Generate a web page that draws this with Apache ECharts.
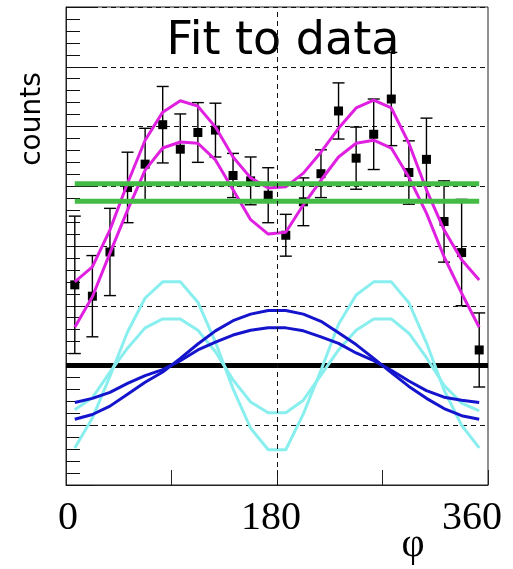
<!DOCTYPE html>
<html><head><meta charset="utf-8">
<script src="https://cdn.jsdelivr.net/npm/echarts@6/dist/echarts.min.js"></script>
<style>html,body{margin:0;padding:0;background:#fff}#c{width:513px;height:569px}</style>
</head><body><div id="c"></div>
<script>
// bin centres (degrees)
const phi = [7.5, 22.5, 37.5, 52.5, 67.5, 82.5, 97.5, 112.5, 127.5, 142.5, 157.5, 172.5,
             187.5, 202.5, 217.5, 232.5, 247.5, 262.5, 277.5, 292.5, 307.5, 322.5, 337.5, 352.5];
// measured counts and errors
const counts = [3.35, 3.16, 3.90, 4.98, 5.37, 6.03, 5.62, 5.90, 5.94, 5.18, 5.09, 4.85,
                4.18, 4.74, 5.21, 6.26, 5.47, 5.87, 6.46, 5.23, 5.45, 4.41, 3.89, 2.26];
const errors = [1.15, 0.68, 0.73, 0.59, 0.60, 0.64, 0.59, 0.50, 0.45, 0.37, 0.40, 0.46,
                0.35, 0.40, 0.40, 0.47, 0.52, 0.59, 0.78, 0.53, 0.69, 0.68, 0.89, 0.62];
// fits (magenta)
const fitHigh = [3.40, 3.65, 4.27, 5.05, 5.77, 6.24, 6.43, 6.34, 5.99, 5.49, 5.14, 4.97,
                 4.99, 5.22, 5.57, 5.97, 6.31, 6.44, 6.31, 5.72, 4.94, 4.27, 3.77, 3.43];
const fitLow  = [2.64, 3.15, 3.88, 4.60, 5.27, 5.64, 5.74, 5.72, 5.44, 4.94, 4.44, 4.20,
                 4.23, 4.69, 5.10, 5.49, 5.72, 5.77, 5.64, 5.15, 4.55, 3.82, 3.21, 2.64];
// constant terms (green)
const constHigh = 5.04;
const constLow = 4.75;
// cos(phi) terms (blue)
const cos1Big   = [1.10, 1.18, 1.32, 1.52, 1.72, 1.89, 2.12, 2.36, 2.58, 2.75, 2.86, 2.92,
                   2.92, 2.86, 2.74, 2.55, 2.35, 2.12, 1.88, 1.65, 1.45, 1.28, 1.16, 1.10];
const cos1Small = [1.38, 1.45, 1.55, 1.70, 1.83, 1.93, 2.08, 2.26, 2.39, 2.51, 2.59, 2.63,
                   2.63, 2.58, 2.48, 2.37, 2.21, 2.08, 1.92, 1.74, 1.58, 1.47, 1.42, 1.38];
// cos(2phi) terms (cyan)
const cos2Big   = [0.62, 1.12, 1.82, 2.56, 3.13, 3.40, 3.40, 3.06, 2.39, 1.61, 0.95, 0.59,
                   0.59, 1.19, 1.92, 2.69, 3.18, 3.40, 3.40, 3.05, 2.38, 1.59, 1.00, 0.62];
const cos2Small = [1.26, 1.46, 1.89, 2.29, 2.63, 2.78, 2.78, 2.59, 2.23, 1.76, 1.39, 1.21,
                   1.21, 1.42, 1.84, 2.26, 2.59, 2.78, 2.78, 2.54, 2.13, 1.67, 1.37, 1.24];
const baselineValue = 2;
const xTickLabels = ['0', '180', '360'];

const pairs = arr => phi.map((p, i) => [p, arr[i]]);
const flat = v => phi.map(p => [p, v]);

function lineSeries(data, color, width) {
  return { type: 'line', data: data, symbol: 'none', showSymbol: false, smooth: false,
           lineStyle: { color: color, width: width }, silent: true };
}

const chart = echarts.init(document.getElementById('c'), null, { renderer: 'canvas' });
const serif = 'Liberation Serif';
chart.setOption({
  animation: false,
  backgroundColor: '#fff',
  grid: { left: 66, right: 25, top: 7, bottom: 84, show: true, borderColor: '#222', borderWidth: 1 },
  xAxis: {
    type: 'value', min: 0, max: 360, interval: 90,
    axisLine: { show: true, lineStyle: { color: '#222', width: 1 } },
    axisTick: { show: true, inside: true, length: 15, lineStyle: { color: '#222' } },
    splitLine: { show: false },
    axisLabel: {
      margin: 13,
      formatter: v => v === 0 ? '{a|' + xTickLabels[0] + '}' : v === 180 ? '{b|' + xTickLabels[1] + '}' : v === 360 ? '{c|' + xTickLabels[2] + '}' : '',
      rich: {
        a: { fontFamily: serif, fontSize: 40, color: '#000', padding: [0, 0, 0, 4] },
        b: { fontFamily: serif, fontSize: 40, color: '#000', padding: [0, 12, 0, 0] },
        c: { fontFamily: serif, fontSize: 40, color: '#000', padding: [0, 32, 0, 0] }
      }
    },
    name: 'φ', nameLocation: 'end', nameGap: -75,
    nameTextStyle: { fontFamily: serif, fontSize: 40, color: '#000', align: 'center', verticalAlign: 'top', padding: [40, 0, 0, 0] }
  },
  yAxis: {
    type: 'value', min: 0, max: 8, interval: 1,
    axisLine: { show: true, lineStyle: { color: '#222', width: 1 } },
    axisTick: { show: true, inside: true, length: 27, lineStyle: { color: '#111' } },
    minorTick: { show: true, splitNumber: 5, length: 14, lineStyle: { color: '#111' } },
    axisLabel: { show: false },
    splitLine: { show: true, lineStyle: { color: '#111', width: 1, type: [5, 4] } }
  },
  graphic: [
    { type: 'text', x: 33, y: 119, rotation: Math.PI / 2,
      style: { text: 'counts', font: '28px "DejaVu Sans"', fill: '#000', align: 'center', verticalAlign: 'middle' } },
    { type: 'text', x: 283, y: 42,
      style: { text: 'Fit to data', font: '46px "DejaVu Sans"', fill: '#000', align: 'center', verticalAlign: 'middle' } }
  ],
  series: [
    Object.assign(lineSeries([[0, baselineValue], [360, baselineValue]], '#000', 5), {
      markLine: { silent: true, symbol: 'none', label: { show: false },
                  lineStyle: { color: '#111', width: 1, type: [5, 4] }, data: [{ xAxis: 180 }] }
    }),
    lineSeries(pairs(cos2Big), '#88eeee', 3),
    lineSeries(pairs(cos2Small), '#88eeee', 3),
    lineSeries(pairs(cos1Big), '#1414cc', 3),
    lineSeries(pairs(cos1Small), '#1414cc', 3),
    lineSeries(pairs(fitHigh), '#e020e0', 3),
    lineSeries(pairs(fitLow), '#e020e0', 3),
    lineSeries(flat(constHigh), '#44bb44', 5),
    lineSeries(flat(constLow), '#44bb44', 5),
    {
      type: 'custom', silent: true,
      data: phi.map((p, i) => [p, counts[i], errors[i]]),
      renderItem: function (params, api) {
        const x = api.value(0), y = api.value(1), e = api.value(2);
        const top = api.coord([x, y + e]);
        const bot = api.coord([x, y - e]);
        const c = api.coord([x, y]);
        const st = { stroke: '#000', lineWidth: 1.4 };
        return { type: 'group', children: [
          { type: 'line', shape: { x1: top[0], y1: top[1], x2: bot[0], y2: bot[1] }, style: st },
          { type: 'line', shape: { x1: top[0] - 6, y1: top[1], x2: top[0] + 6, y2: top[1] }, style: st },
          { type: 'line', shape: { x1: bot[0] - 6, y1: bot[1], x2: bot[0] + 6, y2: bot[1] }, style: st },
          { type: 'rect', shape: { x: c[0] - 4.5, y: c[1] - 4.5, width: 9, height: 9 }, style: { fill: '#000' } }
        ] };
      }
    }
  ]
});
</script>
</body></html>
